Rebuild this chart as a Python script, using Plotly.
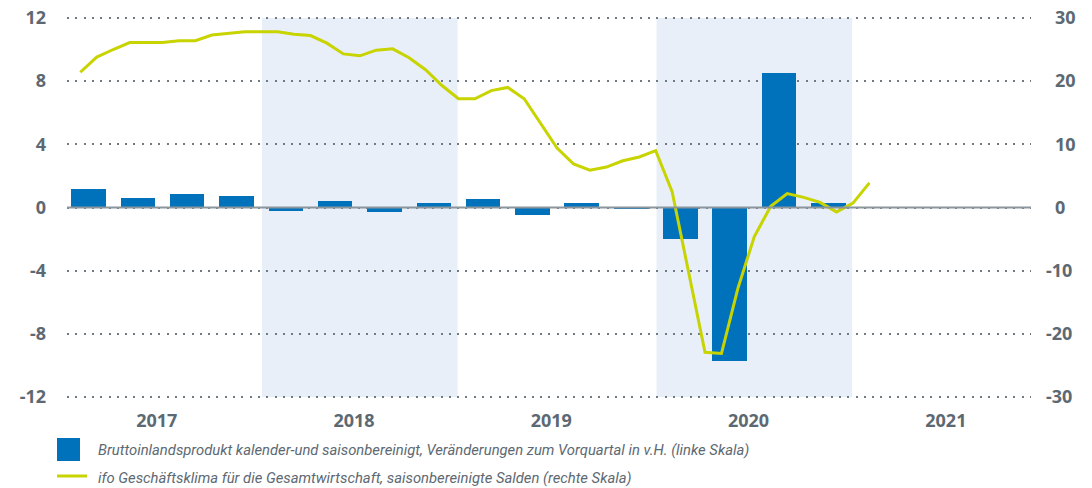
"""
BIP-Veränderung (Balken, linke Skala) und ifo Geschäftsklima (Linie, rechte Skala).
"""

import numpy as np
import plotly.graph_objects as go

# --- data -------------------------------------------------------------
years = [2017, 2018, 2019, 2020, 2021]
shaded_years = [2018, 2020]

quarters = ["2017Q1", "2017Q2", "2017Q3", "2017Q4",
            "2018Q1", "2018Q2", "2018Q3", "2018Q4",
            "2019Q1", "2019Q2", "2019Q3", "2019Q4",
            "2020Q1", "2020Q2", "2020Q3", "2020Q4"]
gdp = [1.2, 0.6, 0.85, 0.7,
       -0.2, 0.4, -0.3, 0.3,
       0.55, -0.5, 0.3, -0.1,
       -2.0, -9.7, 8.5, 0.3]

# monthly, Jan 2017 .. Jan 2021
ifo = [21.4, 23.8, 25.0, 26.1, 26.1, 26.1, 26.4, 26.4, 27.3, 27.6, 27.8, 27.8,
       27.8, 27.4, 27.2, 26.0, 24.3, 24.0, 24.9, 25.1, 23.7, 21.8, 19.3, 17.2,
       17.2, 18.5, 19.0, 17.2, 13.4, 9.4, 6.9, 5.9, 6.4, 7.4, 8.0, 9.0,
       2.5, -10.5, -22.9, -23.1, -12.8, -4.6, 0.2, 2.2, 1.6, 0.8, -0.7, 0.7,
       3.9]

left_ticks = [-12, -8, -4, 0, 4, 8, 12]
right_ticks = [-30, -20, -10, 0, 10, 20, 30]

label_gdp = ("Bruttoinlandsprodukt kalender-und saisonbereinigt, "
             "Veränderungen zum Vorquartal in v.H. (linke Skala)")
label_ifo = ("ifo Geschäftsklima für die Gesamtwirtschaft, "
             "saisonbereinigte Salden (rechte Skala)")

# --- styling ------------------------------------------------------------
BLUE = "#0072bc"
YELLOW = "#c8d400"
SHADE = "#e8eff8"
TEXT = "#5d6972"
FONT = "Noto Sans"

W, H = 1092, 488
# plot area (a bit taller than the +-12 band so the edge gridlines are kept)
PLOT_L, PLOT_R, PLOT_T, PLOT_B = 67, 1031, 16, 399
PAD = 1.01  # range padding factor


def px_x(px):
    return (px - PLOT_L) / (PLOT_R - PLOT_L)


def px_y(py):
    return (PLOT_B - py) / (PLOT_B - PLOT_T)


# x in months since Jan 2017
bar_x = np.arange(len(quarters)) * 3 + 1.5
line_x = np.arange(len(ifo)) + 1.0
year_x = [(y - years[0]) * 12 + 5.65 for y in years]

fig = go.Figure()

fig.add_trace(go.Bar(
    x=bar_x, y=gdp, width=2.1,
    marker=dict(color=BLUE, line=dict(width=0)),
    name=label_gdp, showlegend=False,
))
fig.add_trace(go.Scatter(
    x=line_x, y=ifo, yaxis="y2", mode="lines",
    line=dict(color=YELLOW, width=3),
    name=label_ifo, showlegend=False,
))

shapes = []
for y in shaded_years:
    x0 = (y - years[0]) * 12 + 0.05
    shapes.append(dict(type="rect", xref="x", yref="y",
                       x0=x0, x1=x0 + 11.9, y0=-12, y1=12,
                       fillcolor=SHADE, line=dict(width=0), layer="below"))
# zero line above the bars
shapes.append(dict(type="line", xref="paper", yref="y", x0=0, x1=1, y0=0, y1=0,
                   line=dict(color="#8a959c", width=2), layer="above"))

# legend keys
shapes.append(dict(type="rect", xref="paper", yref="paper",
                   x0=px_x(57), x1=px_x(80), y0=px_y(438), y1=px_y(461),
                   fillcolor=BLUE, line=dict(width=0)))
shapes.append(dict(type="line", xref="paper", yref="paper",
                   x0=px_x(57), x1=px_x(87), y0=px_y(476), y1=px_y(476),
                   line=dict(color=YELLOW, width=3)))

legend_font = dict(family="Roboto", size=14.8, color=TEXT, style="italic")
annotations = [
    dict(text=label_gdp, xref="paper", yref="paper", x=px_x(96), y=px_y(450),
         xanchor="left", yanchor="middle", showarrow=False, font=legend_font),
    dict(text=label_ifo, xref="paper", yref="paper", x=px_x(96), y=px_y(478),
         xanchor="left", yanchor="middle", showarrow=False, font=legend_font),
]

tick_font = dict(family=FONT, size=18, color=TEXT, weight="bold")

fig.update_layout(
    width=W, height=H,
    margin=dict(l=PLOT_L, r=W - PLOT_R, t=PLOT_T, b=H - PLOT_B),
    paper_bgcolor="white", plot_bgcolor="white",
    bargap=0, shapes=shapes, annotations=annotations,
    xaxis=dict(range=[0.19, 58.83], tickvals=year_x,
               ticktext=[str(y) for y in years], automargin=False,
               showgrid=False, zeroline=False, showline=False,
               ticks="", tickfont=tick_font, ticklabelstandoff=9),
    yaxis=dict(range=[-12 * PAD, 12 * PAD], tickvals=left_ticks,
               automargin=False,
               ticktext=[str(v) for v in left_ticks],
               showgrid=True, gridcolor="#6f7b84", gridwidth=2,
               griddash="2px,6.3px", zeroline=False, showline=False,
               ticks="", tickfont=tick_font, ticklabelstandoff=20),
    yaxis2=dict(range=[-30 * PAD, 30 * PAD], overlaying="y", side="right",
                tickvals=right_ticks, automargin=False,
                ticktext=[("\u2002" + str(v)) if v >= 0 else str(v)
                          for v in right_ticks],
                showgrid=False, zeroline=False, showline=False,
                ticks="", tickfont=tick_font, ticklabelstandoff=14),
)

fig.write_html("out.html", config={"displayModeBar": False},
               post_script="document.body.style.margin='0';")
